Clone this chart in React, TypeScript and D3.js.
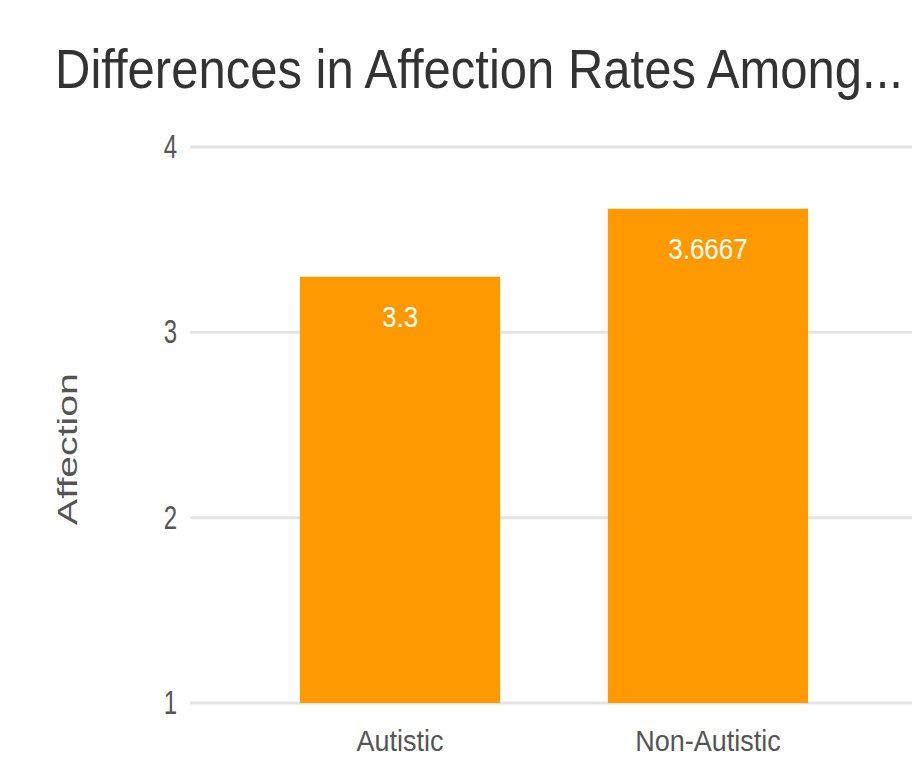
import React from "react";
import * as d3 from "d3";

const title = "Differences in Affection Rates Among...";
const yAxisTitle = "Affection";
const categories = ["Autistic", "Non-Autistic"];
const values = [3.3, 3.6667];
const valueLabels = ["3.3", "3.6667"];
const yTicks = [1, 2, 3, 4];

const W = 912;
const H = 761;

type TProps = {
  x: number;
  y: number;
  sy: number;
  size: number;
  fill: string;
  anchor?: "start" | "middle" | "end";
  children: React.ReactNode;
};

function SText({ x, y, sy, size, fill, anchor = "start", children }: TProps) {
  return (
    <text
      transform={`translate(${x},${y}) scale(1,${sy})`}
      fontSize={size}
      fill={fill}
      textAnchor={anchor}
    >
      {children}
    </text>
  );
}

export default function App() {
  const x = d3
    .scaleBand<string>()
    .domain(categories)
    .range([190, 918])
    .paddingInner(0.35)
    .paddingOuter(0.357);
  const y = d3.scaleLinear().domain([1, 4]).range([703, 147]);
  const font = "'Liberation Sans', Arial, sans-serif";

  return (
    <svg
      width={W}
      height={H}
      style={{ position: "absolute", left: 0, top: 0, background: "#fff" }}
      fontFamily={font}
    >
      <SText x={55} y={88} sy={1.15} size={49} fill="#333">
        {title}
      </SText>
      {yTicks.map((t) => (
        <g key={t}>
          <line x1={190} x2={W} y1={y(t)} y2={y(t)} stroke="#e4e4e4" strokeWidth={3} />
          <SText x={177} y={y(t) + 11} sy={1.35} size={24} fill="#555" anchor="end">
            {t}
          </SText>
        </g>
      ))}
      <text
        transform={`translate(77,449) rotate(-90) scale(1.4,1)`}
        textAnchor="middle"
        fontSize={28}
        fill="#555"
      >
        {yAxisTitle}
      </text>
      {categories.map((c, i) => {
        const cx = (x(c) as number) + x.bandwidth() / 2;
        return (
          <g key={c}>
            <rect
              x={x(c)}
              y={y(values[i])}
              width={x.bandwidth()}
              height={y(1) - y(values[i])}
              fill="#ff9900"
            />
            <SText x={cx} y={y(values[i]) + 50} sy={1.15} size={26} fill="#fff" anchor="middle">
              {valueLabels[i]}
            </SText>
            <SText x={cx} y={751} sy={1.1} size={27} fill="#555" anchor="middle">
              {c}
            </SText>
          </g>
        );
      })}
    </svg>
  );
}
